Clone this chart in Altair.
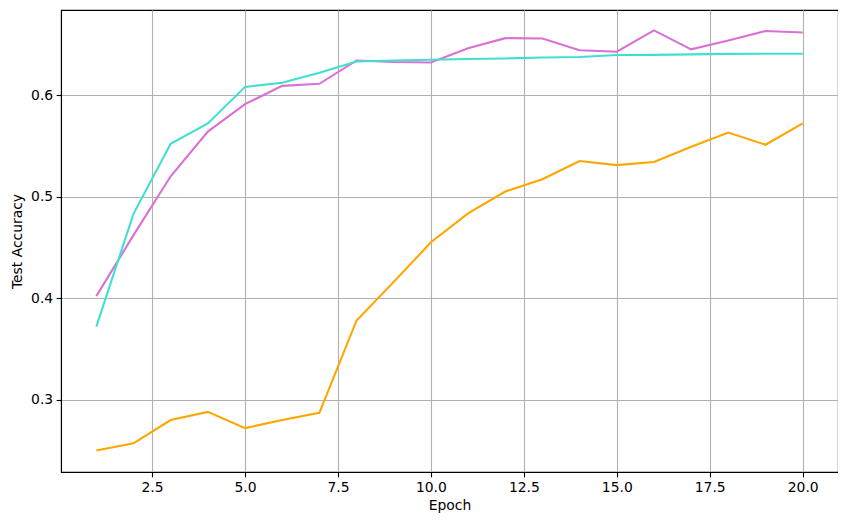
import altair as alt
import pandas as pd

epochs = list(range(1, 21))
orange_acc = [0.250, 0.257, 0.280, 0.288, 0.272, 0.280, 0.287, 0.378, 0.416, 0.455,
              0.4835, 0.505, 0.517, 0.535, 0.531, 0.534, 0.549, 0.563, 0.551, 0.572]
orchid_acc = [0.402, 0.462, 0.520, 0.564, 0.591, 0.609, 0.611, 0.634, 0.6325, 0.632,
              0.646, 0.656, 0.6557, 0.644, 0.6426, 0.6636, 0.645, 0.6537, 0.663, 0.6616]
turq_acc = [0.372, 0.483, 0.552, 0.572, 0.608, 0.612, 0.622, 0.633, 0.634, 0.6347,
            0.6354, 0.636, 0.637, 0.6375, 0.6394, 0.6395, 0.640, 0.6405, 0.6406, 0.6407]
series_names = ["orange", "orchid", "turquoise"]
series_colors = ["#FFA500", "#DA70D6", "#40E0D0"]
x_ticks = [2.5, 5.0, 7.5, 10.0, 12.5, 15.0, 17.5, 20.0]
y_ticks = [0.3, 0.4, 0.5, 0.6]

rows = []
for name, vals in zip(series_names, [orange_acc, orchid_acc, turq_acc]):
    for e, v in zip(epochs, vals):
        rows.append({"Epoch": e, "acc": v, "series": name})
df = pd.DataFrame(rows)

font = "DejaVu Sans"
chart = alt.Chart(df).mark_line(strokeWidth=2.08, clip=True).encode(
    x=alt.X("Epoch:Q",
            scale=alt.Scale(domain=[0.05, 20.95], nice=False, zero=False),
            axis=alt.Axis(values=x_ticks, format=".1f", title="Epoch")),
    y=alt.Y("acc:Q",
            scale=alt.Scale(domain=[0.2288, 0.6837], nice=False, zero=False),
            axis=alt.Axis(values=y_ticks, format=".1f", title="Test Accuracy")),
    color=alt.Color("series:N",
                    scale=alt.Scale(domain=series_names, range=series_colors),
                    legend=None),
    detail="series:N",
).properties(
    width=777,
    height=462,
    autosize=alt.AutoSizeParams(type="none"),
    padding={"left": 53, "top": 2, "right": 0, "bottom": 45},
).configure_view(
    stroke="black", strokeWidth=1.1
).configure_axis(
    grid=True, gridColor="#b0b0b0", gridWidth=1.1, gridOpacity=1,
    domainColor="black", domainWidth=1.1,
    tickColor="black", tickSize=4.86, tickWidth=1.1,
    labelFont=font, labelFontSize=13.9, labelColor="black", labelPadding=3.5,
    titleFont=font, titleFontSize=13.9, titleFontWeight="normal", titleColor="black",
).configure_axisX(
    titlePadding=4
).configure_axisY(
    titlePadding=6
)

chart.save("out.html", embed_options={"renderer": "svg", "actions": False})
